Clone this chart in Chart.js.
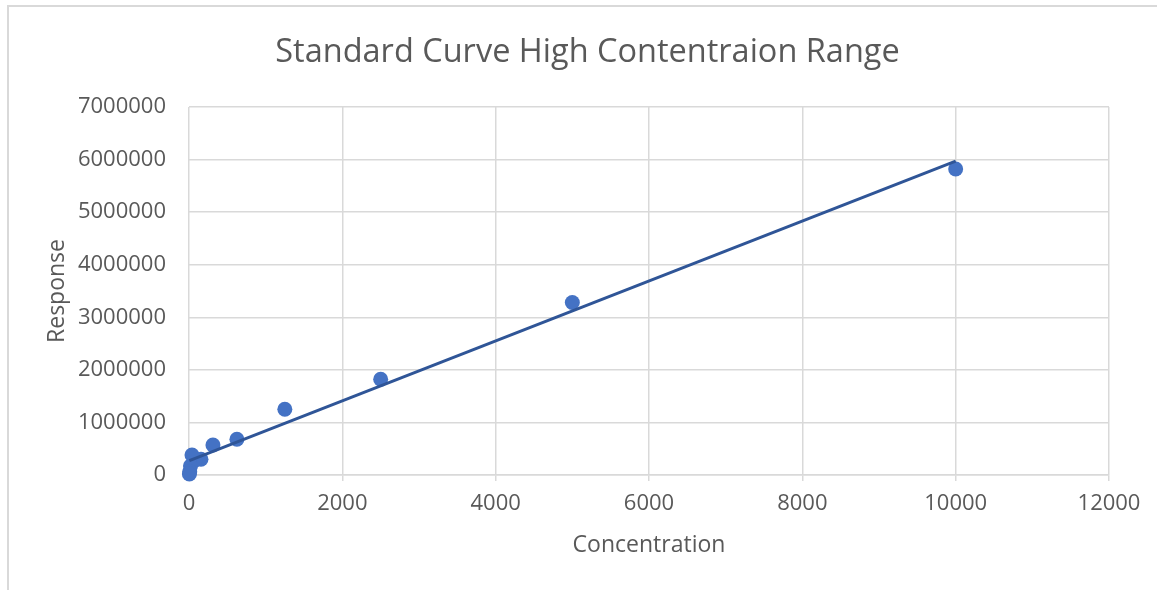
<!DOCTYPE html>
<html>
<head>
<meta charset="utf-8">
<script src="https://cdn.jsdelivr.net/npm/chart.js@4"></script>
<style>
  html, body { margin: 0; padding: 0; background: #fff; }
  #wrap { position: relative; width: 1157px; height: 590px; }
  #frame { position: absolute; left: 7px; top: 5px; right: 0; bottom: 0;
           border-left: 2px solid #d9d9d9; border-top: 2px solid #d9d9d9; }
  #place__graph { position: absolute; left: 0; top: 0; }
</style>
</head>
<body>
<div id="wrap">
  <div id="frame"></div>
  <canvas id="place__graph" width="1157" height="590"></canvas>
</div>
<script>
// concentrations (x) and responses (y)
const concentration = [10000, 5000, 2500, 1250, 625, 312.5, 156.25, 78.125, 39.06, 19.53, 9.77, 4.88];
const response = [5820000, 3280000, 1820000, 1250000, 680000, 570000, 300000, 280000, 380000, 170000, 60000, 20000];

const xTicks = [0, 2000, 4000, 6000, 8000, 10000, 12000];
const yTicks = [0, 1000000, 2000000, 3000000, 4000000, 5000000, 6000000, 7000000];

const chartTitle = 'Standard Curve High Contentraion Range';
const xTitle = 'Concentration';
const yTitle = 'Response';

// linear trendline (least squares) from the data
function linearFit(xs, ys) {
    const n = xs.length;
    const mx = xs.reduce((a, b) => a + b, 0) / n;
    const my = ys.reduce((a, b) => a + b, 0) / n;
    let sxy = 0, sxx = 0;
    for (let i = 0; i < n; i++) {
        sxy += (xs[i] - mx) * (ys[i] - my);
        sxx += (xs[i] - mx) * (xs[i] - mx);
    }
    const slope = sxy / sxx;
    return { slope: slope, intercept: my - slope * mx };
}

const fit = linearFit(concentration, response);
const xMin = Math.min(...concentration);
const xMax = Math.max(...concentration);
const trend = [xMin, xMax].map(x => ({ x: x, y: fit.intercept + fit.slope * x }));

const points = concentration.map((x, i) => ({ x: x, y: response[i] }));

const grey = '#595959';
const gridColor = '#d9d9d9';
const font = 'Open Sans';

const ctx = document.getElementById('place__graph').getContext('2d');
const chart = new Chart(ctx, {
    type: 'scatter',
    data: {
        datasets: [{
            label: 'Trendline',
            type: 'line',
            data: trend,
            borderColor: '#2f5597',
            borderWidth: 3,
            pointRadius: 0,
            fill: false,
            clip: false,
            order: 0
        },
        {
            label: 'Response',
            data: points,
            backgroundColor: '#4472c4',
            borderColor: '#4472c4',
            pointRadius: 7.5,
            pointBorderWidth: 0,
            clip: false,
            order: 1
        }]
    },
    options: {
        responsive: false,
        animation: false,
        layout: { padding: { left: 18, right: 0, top: 0, bottom: 0 } },
        plugins: {
            legend: { display: false },
            tooltip: { enabled: false },
            title: {
                display: true,
                text: chartTitle,
                color: grey,
                font: { family: font, size: 32.5, weight: 'normal', lineHeight: 1.2 },
                padding: { top: 33, bottom: 35 }
            }
        },
        scales: {
            x: {
                type: 'linear',
                min: xTicks[0],
                max: xTicks[xTicks.length - 1],
                afterBuildTicks: s => { s.ticks = xTicks.map(v => ({ value: v })); },
                afterFit: s => { s.height = 115; },
                grid: { color: gridColor, lineWidth: 1.5, tickLength: 6, drawTicks: true },
                border: { color: gridColor, width: 1.5 },
                ticks: {
                    color: grey,
                    font: { family: font, size: 22 },
                    padding: 10,
                    maxRotation: 0,
                    callback: v => String(v)
                },
                title: {
                    display: true,
                    text: xTitle,
                    color: grey,
                    font: { family: font, size: 23, lineHeight: 1.2 },
                    padding: { top: 0, bottom: 31 }
                }
            },
            y: {
                type: 'linear',
                min: yTicks[0],
                max: yTicks[yTicks.length - 1],
                afterBuildTicks: s => { s.ticks = yTicks.map(v => ({ value: v })); },
                afterFit: s => { s.width = 171; },
                grid: { color: gridColor, lineWidth: 1.5, drawTicks: false },
                border: { display: false },
                ticks: {
                    color: grey,
                    font: { family: font, size: 22 },
                    padding: 23,
                    callback: v => String(v)
                },
                title: {
                    display: true,
                    text: yTitle,
                    color: grey,
                    font: { family: font, size: 23, lineHeight: 1.2 },
                    padding: { top: 26, bottom: 0 }
                }
            },
            // empty right-hand scale, only keeps the margin right of the plot
            yRight: {
                type: 'linear',
                position: 'right',
                display: true,
                afterFit: s => { s.width = 48; },
                grid: { display: false },
                border: { display: false },
                ticks: { display: false }
            }
        }
    }
});
</script>
</body>
</html>
